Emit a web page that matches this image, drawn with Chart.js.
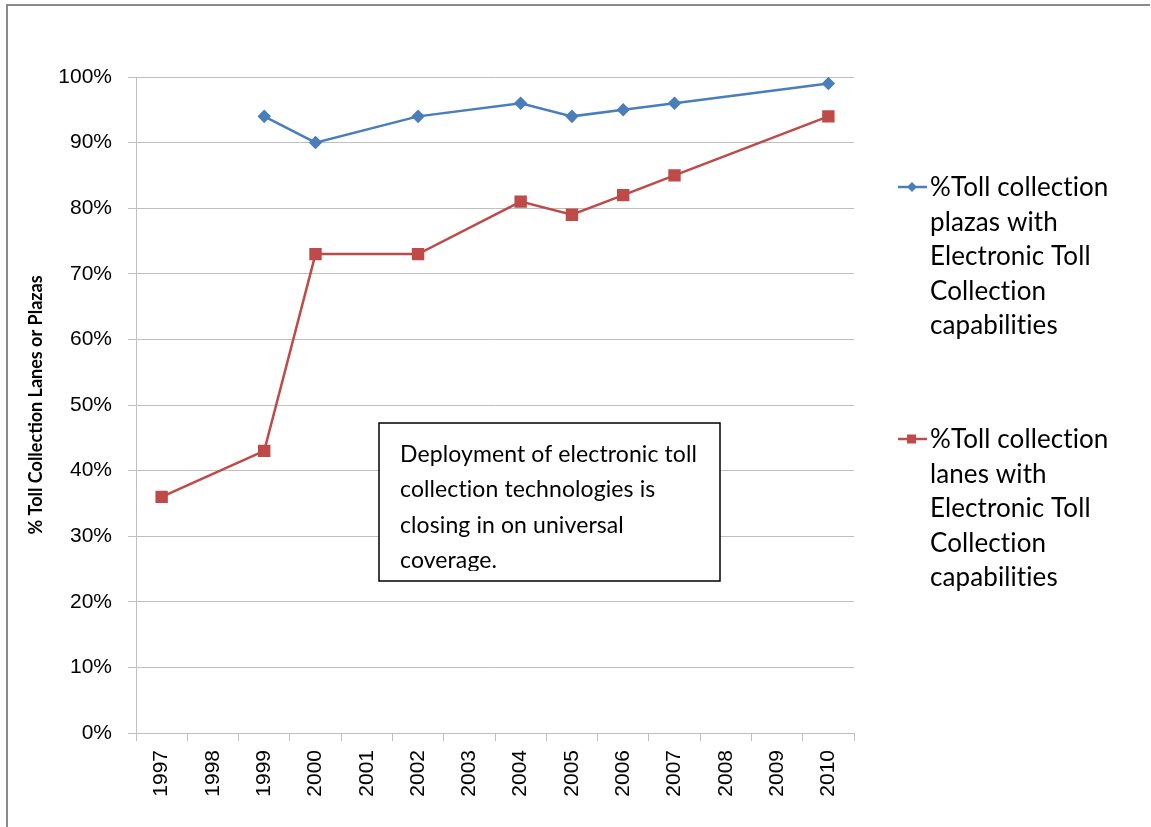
<!DOCTYPE html>
<html>
<head>
<meta charset="utf-8">
<script src="https://cdn.jsdelivr.net/npm/chart.js@4.4.1/dist/chart.umd.min.js"></script>
<style>
  html, body { margin: 0; padding: 0; background: #fff; }
  #chart { display: block; }
</style>
</head>
<body>
<canvas id="chart" width="1151" height="827"></canvas>
<script>
'use strict';

// data
const years = ['1997', '1998', '1999', '2000', '2001', '2002', '2003',
  '2004', '2005', '2006', '2007', '2008', '2009', '2010'];
const plazasPct = [null, null, 94, 90, null, 94, null, 96, 94, 95, 96, null, null, 99];
const lanesPct = [36, null, 43, 73, null, 73, null, 81, 79, 82, 85, null, null, 94];

const plazasLegend = ['%Toll collection', 'plazas with', 'Electronic Toll', 'Collection', 'capabilities'];
const lanesLegend = ['%Toll collection', 'lanes with', 'Electronic Toll', 'Collection', 'capabilities'];
const noteLines = ['Deployment of electronic toll', 'collection technologies is',
  'closing in on universal', 'coverage.'];
const yTitle = '% Toll Collection Lanes or Plazas';

const BLUE = '#4A7EBB';
const RED = '#BE4B48';
const GRID = '#BFBFBF';
const TEXT_FONT = 'Lato, "Open Sans", sans-serif';

// frame, custom legend and the text box
const extras = {
  id: 'extras',
  afterDraw(chart) {
    const ctx = chart.ctx;
    ctx.save();

    // outer frame (bottom edge is cut off in the reference)
    ctx.strokeStyle = '#8a8a8a';
    ctx.lineWidth = 2;
    ctx.beginPath();
    ctx.moveTo(7, 827);
    ctx.lineTo(7, 5);
    ctx.lineTo(1150, 5);
    ctx.stroke();

    // legend
    const drawEntry = (lines, color, style, y0) => {
      ctx.strokeStyle = color;
      ctx.fillStyle = color;
      ctx.lineWidth = 2.5;
      ctx.beginPath();
      ctx.moveTo(898, y0);
      ctx.lineTo(927, y0);
      ctx.stroke();
      ctx.beginPath();
      if (style === 'diamond') {
        ctx.moveTo(912, y0 - 5);
        ctx.lineTo(917, y0);
        ctx.lineTo(912, y0 + 5);
        ctx.lineTo(907, y0);
        ctx.closePath();
      } else {
        ctx.rect(907, y0 - 4.5, 9, 9);
      }
      ctx.fill();
      ctx.fillStyle = '#000';
      ctx.font = '26px ' + TEXT_FONT;
      ctx.letterSpacing = '0.1px';
      ctx.textBaseline = 'alphabetic';
      ctx.textAlign = 'left';
      lines.forEach((t, i) => ctx.fillText(t, 930, y0 + 9 + i * 34.5));
      ctx.letterSpacing = '0px';
    };
    drawEntry(plazasLegend, BLUE, 'diamond', 187);
    drawEntry(lanesLegend, RED, 'square', 439);

    // text box
    ctx.fillStyle = '#fff';
    ctx.fillRect(379, 423, 341, 158);
    ctx.strokeStyle = '#000';
    ctx.lineWidth = 1.5;
    ctx.strokeRect(379, 423, 341, 158);
    ctx.beginPath();
    ctx.rect(380, 424, 339, 147);
    ctx.clip();
    ctx.fillStyle = '#000';
    ctx.font = '23px ' + TEXT_FONT;
    ctx.letterSpacing = '0.1px';
    noteLines.forEach((t, i) => ctx.fillText(t, 400, 462 + i * 35.4));

    ctx.restore();
  }
};

new Chart(document.getElementById('chart'), {
  type: 'line',
  data: {
    labels: years,
    datasets: [{
      label: plazasLegend.join(' '),
      data: plazasPct,
      borderColor: BLUE,
      backgroundColor: BLUE,
      borderWidth: 2.5,
      pointStyle: 'rectRot',
      pointRadius: 5,
      spanGaps: true
    }, {
      label: lanesLegend.join(' '),
      data: lanesPct,
      borderColor: RED,
      backgroundColor: RED,
      borderWidth: 2.5,
      pointStyle: 'rect',
      pointRadius: 7,
      spanGaps: true
    }]
  },
  options: {
    responsive: false,
    animation: false,
    layout: { padding: { top: 77, right: 297, left: 0, bottom: 0 } },
    plugins: {
      legend: { display: false },
      tooltip: { enabled: false }
    },
    scales: {
      x: {
        offset: true,
        afterFit: (s) => { s.height = 94; },
        grid: {
          offset: true,
          drawOnChartArea: false,
          drawTicks: true,
          tickLength: 8,
          color: GRID
        },
        border: { display: true, color: GRID },
        ticks: {
          minRotation: 90,
          maxRotation: 90,
          autoSkip: false,
          padding: 9,
          color: '#000',
          font: { family: '"Liberation Sans", Arial, sans-serif', size: 21 }
        }
      },
      y: {
        min: 0,
        max: 100,
        afterFit: (s) => { s.width = 136; },
        grid: { color: GRID, tickLength: 8 },
        border: { display: true, color: GRID },
        ticks: {
          stepSize: 10,
          padding: 16,
          color: '#000',
          font: { family: '"Liberation Sans", Arial, sans-serif', size: 21 },
          callback: (v) => v + '%'
        },
        title: {
          display: true,
          text: yTitle,
          color: '#000',
          padding: { top: 25, bottom: 0 },
          font: { family: TEXT_FONT, size: 18, weight: 'bold' }
        }
      }
    }
  },
  plugins: [extras]
});
</script>
</body>
</html>
